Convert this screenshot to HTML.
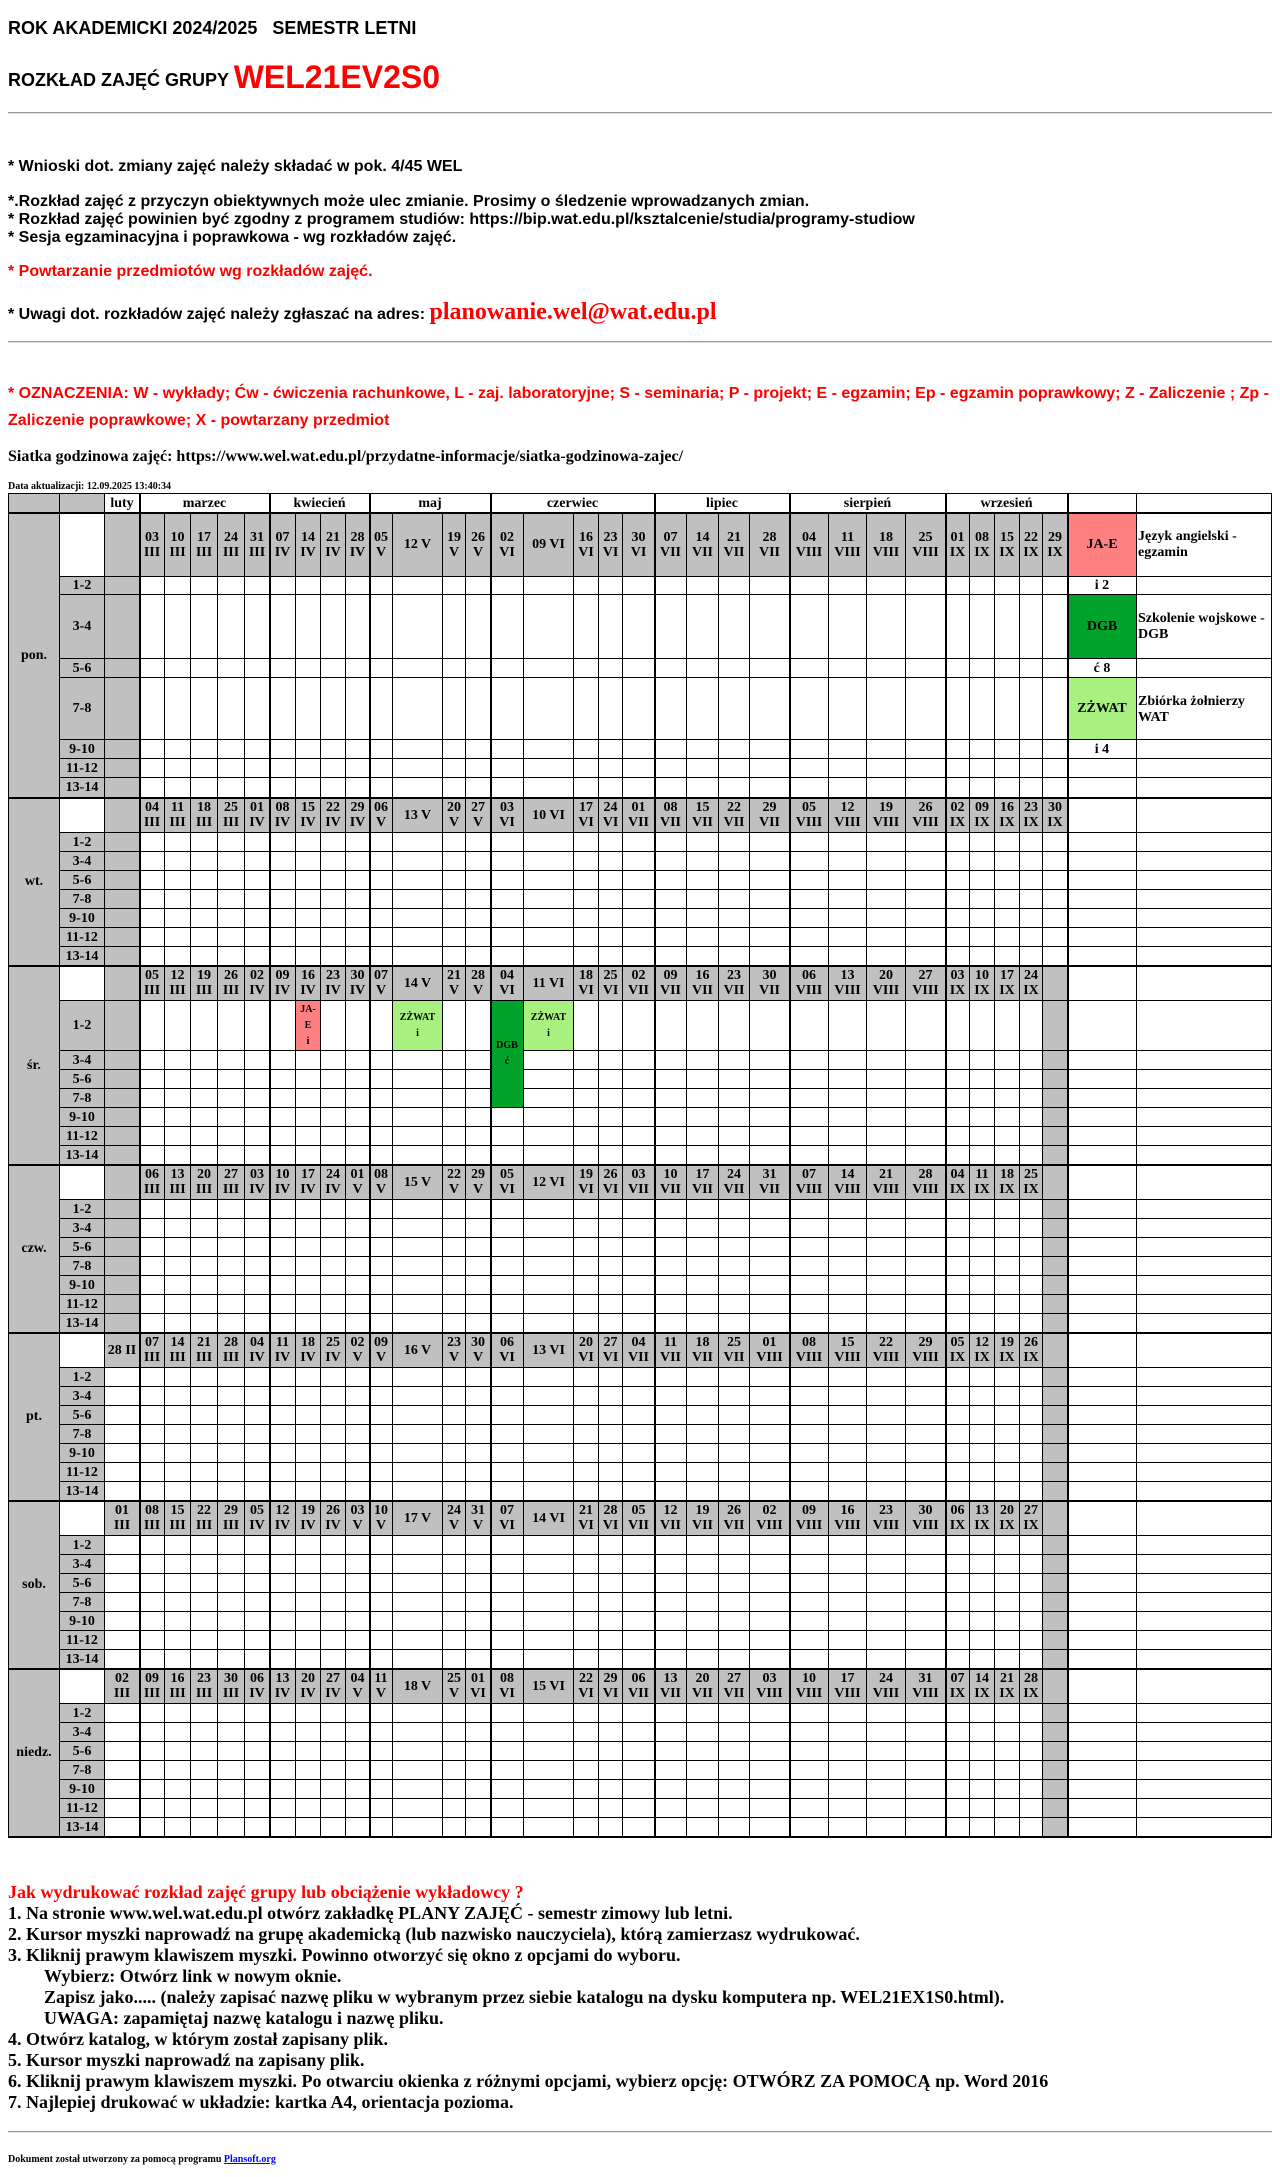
<!DOCTYPE html>
<html><head><meta charset="utf-8">
<style>
html,body{margin:0;padding:0;background:#fff;}
body{width:1280px;height:2177px;position:relative;overflow:hidden;font-family:"Liberation Serif",serif;}
.t{position:absolute;white-space:nowrap;font-weight:bold;}
.s{font-family:"Liberation Sans",sans-serif;}
.hr{position:absolute;left:8px;width:1264px;height:0;border-top:1px solid #9a9a9a;border-bottom:1px solid #e0e0e0;}
.c{position:absolute;box-sizing:border-box;border:1px solid #000;display:flex;align-items:center;justify-content:center;text-align:center;font-weight:bold;font-size:14px;line-height:15px;overflow:hidden;color:#000;}
.tv{position:absolute;background:#000;}
</style></head><body>
<div class="t s" style="left:8px;top:18px;font-size:18px;">ROK AKADEMICKI 2024/2025&nbsp;&nbsp; SEMESTR LETNI</div>
<div class="t s" style="left:8px;top:59px;font-size:18px;line-height:36px;">ROZKŁAD ZAJĘĆ GRUPY <span style="color:#f00;font-size:32px;vertical-align:-2px;">WEL21EV2S0</span></div>
<div class="hr" style="top:112px;"></div>
<div class="t s" style="left:8px;top:158px;font-size:16px;">* Wnioski dot. zmiany zajęć należy składać w pok. 4/45 WEL</div>
<div class="t s" style="left:8px;top:193px;font-size:16px;">*.Rozkład zajęć z przyczyn obiektywnych może ulec zmianie. Prosimy o śledzenie wprowadzanych zmian.</div>
<div class="t s" style="left:8px;top:211px;font-size:16px;">* Rozkład zajęć powinien być zgodny z programem studiów: https://bip.wat.edu.pl/ksztalcenie/studia/programy-studiow</div>
<div class="t s" style="left:8px;top:229px;font-size:16px;">* Sesja egzaminacyjna i poprawkowa - wg rozkładów zajęć.</div>
<div class="t s" style="left:8px;top:263px;font-size:16px;color:#f00;">* Powtarzanie przedmiotów wg rozkładów zajęć.</div>
<div class="t s" style="left:8px;top:298px;font-size:16px;line-height:28px;">* Uwagi dot. rozkładów zajęć należy zgłaszać na adres: <span style="font-family:'Liberation Serif',serif;color:#f00;font-size:24px;font-weight:bold;">planowanie.wel@wat.edu.pl</span></div>
<div class="hr" style="top:341px;"></div>
<div class="t s" style="left:8px;top:385px;font-size:16px;color:#f00;">* OZNACZENIA: W - wykłady; Ćw - ćwiczenia rachunkowe, L - zaj. laboratoryjne; S - seminaria; P - projekt; E - egzamin; Ep - egzamin poprawkowy; Z - Zaliczenie ; Zp -</div>
<div class="t s" style="left:8px;top:412px;font-size:16px;color:#f00;">Zaliczenie poprawkowe; X - powtarzany przedmiot</div>
<div class="t" style="left:8px;top:448px;font-size:16px;">Siatka godzinowa zajęć: https://www.wel.wat.edu.pl/przydatne-informacje/siatka-godzinowa-zajec/</div>
<div class="t" style="left:8px;top:481px;font-size:10px;">Data aktualizacji: 12.09.2025 13:40:34</div>

<div id="grid"></div>

<div class="t" style="left:8px;top:1882px;font-size:18px;color:#f00;">Jak wydrukować rozkład zajęć grupy lub obciążenie wykładowcy ?</div>
<div style="position:absolute;left:8px;top:1903px;font-size:18px;font-weight:bold;line-height:21px;white-space:nowrap;">
<div>1. Na stronie www.wel.wat.edu.pl otwórz zakładkę PLANY ZAJĘĆ - semestr zimowy lub letni.</div>
<div>2. Kursor myszki naprowadź na grupę akademicką (lub nazwisko nauczyciela), którą zamierzasz wydrukować.</div>
<div>3. Kliknij prawym klawiszem myszki. Powinno otworzyć się okno z opcjami do wyboru.</div>
<div style="padding-left:36px">Wybierz: Otwórz link w nowym oknie.</div>
<div style="padding-left:36px">Zapisz jako..... (należy zapisać nazwę pliku w wybranym przez siebie katalogu na dysku komputera np. WEL21EX1S0.html).</div>
<div style="padding-left:36px">UWAGA: zapamiętaj nazwę katalogu i nazwę pliku.</div>
<div>4. Otwórz katalog, w którym został zapisany plik.</div>
<div>5. Kursor myszki naprowadź na zapisany plik.</div>
<div>6. Kliknij prawym klawiszem myszki. Po otwarciu okienka z różnymi opcjami, wybierz opcję: OTWÓRZ ZA POMOCĄ np. Word 2016</div>
<div>7. Najlepiej drukować w układzie: kartka A4, orientacja pozioma.</div>
</div>
<div class="hr" style="top:2131px;"></div>
<div class="t" style="left:8px;top:2154px;font-size:10px;">Dokument został utworzony za pomocą programu <a style="color:#00f;text-decoration:underline;">Plansoft.org</a></div>

<script>
const dayNames = ['pon.','wt.','śr.','czw.','pt.','sob.','niedz.'];
const hourLabels = ['1-2','3-4','5-6','7-8','9-10','11-12','13-14'];
const monthNames = ['luty','marzec','kwiecień','maj','czerwiec','lipiec','sierpień','wrzesień'];
const monthSpans = [1,5,4,4,5,4,4,5];
const datesPon = ['','03 III','10 III','17 III','24 III','31 III','07 IV','14 IV','21 IV','28 IV','05 V','12 V','19 V','26 V','02 VI','09 VI','16 VI','23 VI','30 VI','07 VII','14 VII','21 VII','28 VII','04 VIII','11 VIII','18 VIII','25 VIII','01 IX','08 IX','15 IX','22 IX','29 IX'];
const datesWt = ['','04 III','11 III','18 III','25 III','01 IV','08 IV','15 IV','22 IV','29 IV','06 V','13 V','20 V','27 V','03 VI','10 VI','17 VI','24 VI','01 VII','08 VII','15 VII','22 VII','29 VII','05 VIII','12 VIII','19 VIII','26 VIII','02 IX','09 IX','16 IX','23 IX','30 IX'];
const datesSr = ['','05 III','12 III','19 III','26 III','02 IV','09 IV','16 IV','23 IV','30 IV','07 V','14 V','21 V','28 V','04 VI','11 VI','18 VI','25 VI','02 VII','09 VII','16 VII','23 VII','30 VII','06 VIII','13 VIII','20 VIII','27 VIII','03 IX','10 IX','17 IX','24 IX',''];
const datesCzw = ['','06 III','13 III','20 III','27 III','03 IV','10 IV','17 IV','24 IV','01 V','08 V','15 V','22 V','29 V','05 VI','12 VI','19 VI','26 VI','03 VII','10 VII','17 VII','24 VII','31 VII','07 VIII','14 VIII','21 VIII','28 VIII','04 IX','11 IX','18 IX','25 IX',''];
const datesPt = ['28 II','07 III','14 III','21 III','28 III','04 IV','11 IV','18 IV','25 IV','02 V','09 V','16 V','23 V','30 V','06 VI','13 VI','20 VI','27 VI','04 VII','11 VII','18 VII','25 VII','01 VIII','08 VIII','15 VIII','22 VIII','29 VIII','05 IX','12 IX','19 IX','26 IX',''];
const datesSob = ['01 III','08 III','15 III','22 III','29 III','05 IV','12 IV','19 IV','26 IV','03 V','10 V','17 V','24 V','31 V','07 VI','14 VI','21 VI','28 VI','05 VII','12 VII','19 VII','26 VII','02 VIII','09 VIII','16 VIII','23 VIII','30 VIII','06 IX','13 IX','20 IX','27 IX',''];
const datesNiedz = ['02 III','09 III','16 III','23 III','30 III','06 IV','13 IV','20 IV','27 IV','04 V','11 V','18 V','25 V','01 VI','08 VI','15 VI','22 VI','29 VI','06 VII','13 VII','20 VII','27 VII','03 VIII','10 VIII','17 VIII','24 VIII','31 VIII','07 IX','14 IX','21 IX','28 IX',''];
const allDates = [datesPon,datesWt,datesSr,datesCzw,datesPt,datesSob,datesNiedz];
// events: day index, date column index (0 = luty), first hour row, last hour row, label, colour
const evDay = [2,2,2,2];
const evCol = [7,11,14,15];
const evFrom = [0,0,0,0];
const evTo = [0,0,3,0];
const evText = ['JA-<br>E<br>i','ZŻWAT<br>i','DGB<br>ć','ZŻWAT<br>i'];
const evColor = ['#ff8080','#a8f07f','#00a22a','#a8f07f'];
const legendCodes = ['JA-E','i 2','DGB','ć 8','ZŻWAT','i 4','',''];
const legendColors = ['#ff8080','#fff','#00a22a','#fff','#a8f07f','#fff','#fff','#fff'];
const legendDescs = ['Język angielski - egzamin','','Szkolenie wojskowe - DGB','','Zbiórka żołnierzy WAT','','',''];

// layout
const B = [8,59,104,139,164,190,217,244,269,295,320,345,369,392,442,465,490,523,573,598,622,654,686,718,749,789,828,866,905,945,969,994,1019,1042,1067,1136,1271];
const GRAY = '#c0c0c0';
const T0 = 493, MONTH_BOTTOM = 512;
function rowEdges(d, start){
  let h;
  if(d===0) h=[64,18,64,19,62,19,19,20];
  else if(d===2) h=[35,50,19,19,19,19,19,19];
  else h=[35,19,19,19,19,19,19,19];
  const e=[start]; h.forEach(v=>e.push(e[e.length-1]+v)); return e;
}
function dateLabel(t,w){
  if(!t) return '';
  if(w>=45 || (w>=34 && t.length<=5)) return t;
  return t.replace(' ','<br>');
}
const grid = document.getElementById('grid');
function cell(x0,x1,y0,y1,bg,html,name,extra){
  const el=document.createElement('div');
  el.className='c';
  el.style.left=x0+'px'; el.style.top=y0+'px';
  el.style.width=(x1-x0+1)+'px'; el.style.height=(y1-y0+1)+'px';
  el.style.background=bg;
  if(extra) Object.assign(el.style, extra);
  el.innerHTML=html||'';
  
  
  grid.appendChild(el); return el;
}
cell(B[0],B[1],T0,MONTH_BOTTOM,GRAY,'','corner-cell');
cell(B[1],B[2],T0,MONTH_BOTTOM,GRAY,'','corner-cell');
let ci=2;
monthNames.forEach((m,i)=>{
  const el=cell(B[ci],B[ci+monthSpans[i]],T0,MONTH_BOTTOM,'#fff',m,'month-header');
  
  ci+=monthSpans[i];
});
cell(B[34],B[35],T0,MONTH_BOTTOM,'#fff','','legend-header');
cell(B[35],B[36],T0,MONTH_BOTTOM,'#fff','','legend-header');

let y=MONTH_BOTTOM;
const blockTops=[];
dayNames.forEach((dn,d)=>{
  const E=rowEdges(d,y); blockTops.push(y);
  const dates=allDates[d];
  cell(B[0],B[1],E[0],E[8],GRAY,dn,'day-'+dn.replace('.',''));
  cell(B[1],B[2],E[0],E[1],'#fff','','hour-header');
  for(let r=0;r<7;r++) cell(B[1],B[2],E[r+1],E[r+2],GRAY,hourLabels[r],'hour-label');
  for(let k=0;k<32;k++){
    const x0=B[2+k],x1=B[3+k];
    const has=dates[k]!=='';
    cell(x0,x1,E[0],E[1],GRAY,dateLabel(dates[k],x1-x0),'date-header');
    for(let r=0;r<7;r++) cell(x0,x1,E[r+1],E[r+2],has?'#fff':GRAY,'','slot-cell');
  }
  for(let r=0;r<8;r++){
    const isPon=d===0;
    const code=isPon?legendCodes[r]:'';
    const col=isPon?legendColors[r]:'#fff';
    cell(B[34],B[35],E[r],E[r+1],col,code,'legend-code');
    const desc=isPon?legendDescs[r]:'';
    cell(B[35],B[36],E[r],E[r+1],'#fff',desc,'legend-description',{justifyContent:'flex-start',textAlign:'left',alignItems:'flex-start',paddingTop:(desc?'16px':'0'),paddingLeft:'1px',paddingRight:'2px',fontSize:'14px',lineHeight:'16px',whiteSpace:'normal'});
  }
  for(let i=0;i<evDay.length;i++){
    if(evDay[i]!==d) continue;
    const k=evCol[i];
    const el=cell(B[2+k],B[3+k],E[evFrom[i]+1],E[evTo[i]+2],evColor[i],evText[i],'event-block',{fontSize:'10px',lineHeight:'16px'});
    
  }
  y=E[8];
});
const bottom=y;
[3,8,12,16,21,25,29,34].forEach(i=>{
  const v=document.createElement('div'); v.className='tv';
  v.style.left=B[i]+'px'; v.style.top=T0+'px'; v.style.width='2px'; v.style.height=(bottom-T0+1)+'px';
  
  
  grid.appendChild(v);
});
blockTops.forEach(t=>{
  const h=document.createElement('div'); h.className='tv';
  h.style.left=B[0]+'px'; h.style.top=t+'px'; h.style.width=(B[36]-B[0]+1)+'px'; h.style.height='2px';
  
  
  grid.appendChild(h);
});
const bl=document.createElement('div'); bl.className='tv';
bl.style.left=B[0]+'px'; bl.style.top=bottom+'px'; bl.style.width=(B[36]-B[0]+1)+'px'; bl.style.height='2px';


grid.appendChild(bl);
</script>
</body></html>
